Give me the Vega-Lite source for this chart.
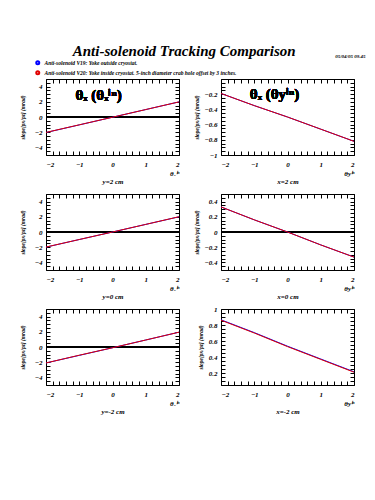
{
  "$schema": "https://vega.github.io/schema/vega-lite/v6.json",
  "autosize": {"type": "none"},
  "padding": {"left": 46, "top": 79, "right": 329, "bottom": 421},
  "background": "white",
  "title": {"text": "Anti-solenoid Tracking Comparison", "font": "Liberation Serif", "fontSize": 15, "fontStyle": "italic", "fontWeight": "bold", "anchor": "start", "dx": 53, "offset": -6, "color": "black"},
  "datasets": {
    "lines": [
      {"panel": "A", "series": "Anti-solenoid V19: Yoke outside cryostat.", "x": -2, "y": -2.04},
      {"panel": "A", "series": "Anti-solenoid V19: Yoke outside cryostat.", "x": -1, "y": -1.04},
      {"panel": "A", "series": "Anti-solenoid V19: Yoke outside cryostat.", "x": 0, "y": -0.03},
      {"panel": "A", "series": "Anti-solenoid V19: Yoke outside cryostat.", "x": 1, "y": 0.98},
      {"panel": "A", "series": "Anti-solenoid V19: Yoke outside cryostat.", "x": 2, "y": 1.99},
      {"panel": "A", "series": "Anti-solenoid V20: Yoke inside cryostat. 5-inch diameter crab hole offset by 3 inches.", "x": -2, "y": -2.03},
      {"panel": "A", "series": "Anti-solenoid V20: Yoke inside cryostat. 5-inch diameter crab hole offset by 3 inches.", "x": -1, "y": -1.03},
      {"panel": "A", "series": "Anti-solenoid V20: Yoke inside cryostat. 5-inch diameter crab hole offset by 3 inches.", "x": 0, "y": -0.03},
      {"panel": "A", "series": "Anti-solenoid V20: Yoke inside cryostat. 5-inch diameter crab hole offset by 3 inches.", "x": 1, "y": 0.98},
      {"panel": "A", "series": "Anti-solenoid V20: Yoke inside cryostat. 5-inch diameter crab hole offset by 3 inches.", "x": 2, "y": 1.99},
      {"panel": "B", "series": "Anti-solenoid V19: Yoke outside cryostat.", "x": -2, "y": -0.19},
      {"panel": "B", "series": "Anti-solenoid V19: Yoke outside cryostat.", "x": -1, "y": -0.35},
      {"panel": "B", "series": "Anti-solenoid V19: Yoke outside cryostat.", "x": 0, "y": -0.5},
      {"panel": "B", "series": "Anti-solenoid V19: Yoke outside cryostat.", "x": 1, "y": -0.66},
      {"panel": "B", "series": "Anti-solenoid V19: Yoke outside cryostat.", "x": 2, "y": -0.82},
      {"panel": "B", "series": "Anti-solenoid V20: Yoke inside cryostat. 5-inch diameter crab hole offset by 3 inches.", "x": -2, "y": -0.19},
      {"panel": "B", "series": "Anti-solenoid V20: Yoke inside cryostat. 5-inch diameter crab hole offset by 3 inches.", "x": -1, "y": -0.35},
      {"panel": "B", "series": "Anti-solenoid V20: Yoke inside cryostat. 5-inch diameter crab hole offset by 3 inches.", "x": 0, "y": -0.5},
      {"panel": "B", "series": "Anti-solenoid V20: Yoke inside cryostat. 5-inch diameter crab hole offset by 3 inches.", "x": 1, "y": -0.66},
      {"panel": "B", "series": "Anti-solenoid V20: Yoke inside cryostat. 5-inch diameter crab hole offset by 3 inches.", "x": 2, "y": -0.82},
      {"panel": "C", "series": "Anti-solenoid V19: Yoke outside cryostat.", "x": -2, "y": -1.99},
      {"panel": "C", "series": "Anti-solenoid V19: Yoke outside cryostat.", "x": -1, "y": -0.99},
      {"panel": "C", "series": "Anti-solenoid V19: Yoke outside cryostat.", "x": 0, "y": 0.0},
      {"panel": "C", "series": "Anti-solenoid V19: Yoke outside cryostat.", "x": 1, "y": 1.0},
      {"panel": "C", "series": "Anti-solenoid V19: Yoke outside cryostat.", "x": 2, "y": 2.0},
      {"panel": "C", "series": "Anti-solenoid V20: Yoke inside cryostat. 5-inch diameter crab hole offset by 3 inches.", "x": -2, "y": -1.98},
      {"panel": "C", "series": "Anti-solenoid V20: Yoke inside cryostat. 5-inch diameter crab hole offset by 3 inches.", "x": -1, "y": -0.99},
      {"panel": "C", "series": "Anti-solenoid V20: Yoke inside cryostat. 5-inch diameter crab hole offset by 3 inches.", "x": 0, "y": 0.0},
      {"panel": "C", "series": "Anti-solenoid V20: Yoke inside cryostat. 5-inch diameter crab hole offset by 3 inches.", "x": 1, "y": 1.0},
      {"panel": "C", "series": "Anti-solenoid V20: Yoke inside cryostat. 5-inch diameter crab hole offset by 3 inches.", "x": 2, "y": 2.01},
      {"panel": "D", "series": "Anti-solenoid V19: Yoke outside cryostat.", "x": -2, "y": 0.33},
      {"panel": "D", "series": "Anti-solenoid V19: Yoke outside cryostat.", "x": -1, "y": 0.16},
      {"panel": "D", "series": "Anti-solenoid V19: Yoke outside cryostat.", "x": 0, "y": 0.0},
      {"panel": "D", "series": "Anti-solenoid V19: Yoke outside cryostat.", "x": 1, "y": -0.17},
      {"panel": "D", "series": "Anti-solenoid V19: Yoke outside cryostat.", "x": 2, "y": -0.33},
      {"panel": "D", "series": "Anti-solenoid V20: Yoke inside cryostat. 5-inch diameter crab hole offset by 3 inches.", "x": -2, "y": 0.33},
      {"panel": "D", "series": "Anti-solenoid V20: Yoke inside cryostat. 5-inch diameter crab hole offset by 3 inches.", "x": -1, "y": 0.16},
      {"panel": "D", "series": "Anti-solenoid V20: Yoke inside cryostat. 5-inch diameter crab hole offset by 3 inches.", "x": 0, "y": 0.0},
      {"panel": "D", "series": "Anti-solenoid V20: Yoke inside cryostat. 5-inch diameter crab hole offset by 3 inches.", "x": 1, "y": -0.17},
      {"panel": "D", "series": "Anti-solenoid V20: Yoke inside cryostat. 5-inch diameter crab hole offset by 3 inches.", "x": 2, "y": -0.33},
      {"panel": "E", "series": "Anti-solenoid V19: Yoke outside cryostat.", "x": -2, "y": -2.1},
      {"panel": "E", "series": "Anti-solenoid V19: Yoke outside cryostat.", "x": -1, "y": -1.1},
      {"panel": "E", "series": "Anti-solenoid V19: Yoke outside cryostat.", "x": 0, "y": -0.1},
      {"panel": "E", "series": "Anti-solenoid V19: Yoke outside cryostat.", "x": 1, "y": 0.92},
      {"panel": "E", "series": "Anti-solenoid V19: Yoke outside cryostat.", "x": 2, "y": 1.95},
      {"panel": "E", "series": "Anti-solenoid V20: Yoke inside cryostat. 5-inch diameter crab hole offset by 3 inches.", "x": -2, "y": -2.1},
      {"panel": "E", "series": "Anti-solenoid V20: Yoke inside cryostat. 5-inch diameter crab hole offset by 3 inches.", "x": -1, "y": -1.08},
      {"panel": "E", "series": "Anti-solenoid V20: Yoke inside cryostat. 5-inch diameter crab hole offset by 3 inches.", "x": 0, "y": -0.1},
      {"panel": "E", "series": "Anti-solenoid V20: Yoke inside cryostat. 5-inch diameter crab hole offset by 3 inches.", "x": 1, "y": 0.92},
      {"panel": "E", "series": "Anti-solenoid V20: Yoke inside cryostat. 5-inch diameter crab hole offset by 3 inches.", "x": 2, "y": 1.95},
      {"panel": "F", "series": "Anti-solenoid V19: Yoke outside cryostat.", "x": -2, "y": 0.865},
      {"panel": "F", "series": "Anti-solenoid V19: Yoke outside cryostat.", "x": -1, "y": 0.705},
      {"panel": "F", "series": "Anti-solenoid V19: Yoke outside cryostat.", "x": 0, "y": 0.535},
      {"panel": "F", "series": "Anti-solenoid V19: Yoke outside cryostat.", "x": 1, "y": 0.375},
      {"panel": "F", "series": "Anti-solenoid V19: Yoke outside cryostat.", "x": 2, "y": 0.215},
      {"panel": "F", "series": "Anti-solenoid V20: Yoke inside cryostat. 5-inch diameter crab hole offset by 3 inches.", "x": -2, "y": 0.86},
      {"panel": "F", "series": "Anti-solenoid V20: Yoke inside cryostat. 5-inch diameter crab hole offset by 3 inches.", "x": -1, "y": 0.7},
      {"panel": "F", "series": "Anti-solenoid V20: Yoke inside cryostat. 5-inch diameter crab hole offset by 3 inches.", "x": 0, "y": 0.53},
      {"panel": "F", "series": "Anti-solenoid V20: Yoke inside cryostat. 5-inch diameter crab hole offset by 3 inches.", "x": 1, "y": 0.37},
      {"panel": "F", "series": "Anti-solenoid V20: Yoke inside cryostat. 5-inch diameter crab hole offset by 3 inches.", "x": 2, "y": 0.21}
    ]
  },
  "data": {"name": "lines"},
  "columns": 2,
  "spacing": {"row": 39, "column": 42},
  "bounds": "flush",
  "concat": [
    {
      "width": 133, "height": 76,
      "transform": [{"filter": "datum.panel == 'A'"}],
      "layer": [
        {"mark": {"type": "rule", "color": "black", "strokeWidth": 1}, "encoding": {"y": {"datum": 0, "type": "quantitative", "axis": null}}},
        {"mark": {"type": "line", "strokeWidth": 1, "clip": true},
         "encoding": {
           "x": {"field": "x", "type": "quantitative", "scale": {"domain": [-2, 2], "nice": false, "zero": false}, "axis": {"orient": "bottom", "title": "y=2 cm", "titlePadding": 1, "labelFont": "Liberation Serif", "labelFontStyle": "italic", "labelFontWeight": "bold", "labelFontSize": 7, "labelColor": "black", "titleFont": "Liberation Serif", "titleFontStyle": "italic", "titleFontWeight": "bold", "titleColor": "black", "titleFontSize": 7, "offset": -4, "tickSize": 4, "tickColor": "black", "tickWidth": 1, "labelPadding": 5, "domainOpacity": 0, "gridOpacity": 0, "values": [-2,-1.8,-1.6,-1.4,-1.2,-1,-0.8,-0.6,-0.4,-0.2,0,0.2,0.4,0.6,0.8,1,1.2,1.4,1.6,1.8,2], "format": "~g", "labelExpr": "datum.value == 2 ? ['2', 'θₓⁱⁿ'] : (abs(datum.value - round(datum.value)) < 0.01 ? datum.label : '')"}},
           "y": {"field": "y", "type": "quantitative", "scale": {"domain": [-5, 5], "nice": false, "zero": false}, "axis": {"orient": "left", "title": "slope[px/pz] (mrad)", "titleFontSize": 5.5, "titlePadding": 9, "labelFont": "Liberation Serif", "labelFontStyle": "italic", "labelFontWeight": "bold", "labelFontSize": 7, "labelColor": "black", "titleFont": "Liberation Serif", "titleFontStyle": "italic", "titleFontWeight": "bold", "titleColor": "black", "offset": -4, "tickSize": 4, "tickColor": "black", "tickWidth": 1, "labelPadding": 4, "domainOpacity": 0, "gridOpacity": 0, "values": [-5,-4.5,-4,-3.5,-3,-2.5,-2,-1.5,-1,-0.5,0,0.5,1,1.5,2,2.5,3,3.5,4,4.5,5], "format": "~g", "labelExpr": "(datum.value % 2 == 0 && abs(datum.value) < 5) ? datum.label : ''"}},
           "color": {"field": "series", "type": "nominal", "scale": {"range": ["#0000ff", "#e00000"]}, "legend": {"title": null, "orient": "none", "legendX": -11, "legendY": -19, "symbolType": "circle", "symbolSize": 4, "symbolStrokeWidth": 3, "labelFontSize": 5.5, "labelFont": "Liberation Serif", "labelFontStyle": "italic", "labelFontWeight": "bold", "labelColor": "black", "labelLimit": 0, "rowPadding": -6, "labelOffset": 4, "padding": 0}}
         }},
        {"mark": {"type": "line", "opacity": 0},
         "encoding": {
           "x": {"field": "x", "type": "quantitative", "axis": {"orient": "top", "labels": false, "title": null, "offset": -4, "tickSize": 4, "tickColor": "black", "tickWidth": 1, "domainOpacity": 0, "gridOpacity": 0, "values": [-2,-1.8,-1.6,-1.4,-1.2,-1,-0.8,-0.6,-0.4,-0.2,0,0.2,0.4,0.6,0.8,1,1.2,1.4,1.6,1.8,2]}},
           "y": {"field": "y", "type": "quantitative", "axis": {"orient": "right", "labels": false, "title": null, "offset": -4, "tickSize": 4, "tickColor": "black", "tickWidth": 1, "domainOpacity": 0, "gridOpacity": 0, "values": [-5,-4.5,-4,-3.5,-3,-2.5,-2,-1.5,-1,-0.5,0,0.5,1,1.5,2,2.5,3,3.5,4,4.5,5]}},
           "detail": {"field": "series"}
         }},
        {"mark": {"type": "text", "font": "Liberation Serif", "fontSize": 15, "fontWeight": "bold", "align": "center", "baseline": "middle", "color": "black"},
         "encoding": {"x": {"datum": -0.42, "type": "quantitative", "axis": null}, "y": {"datum": 2.9, "type": "quantitative", "axis": null}, "text": {"value": "θₓ (θₓⁱⁿ)"}}}
      ],
      "resolve": {"axis": {"x": "independent", "y": "independent"}}
    },
    {
      "width": 133, "height": 76,
      "title": {"text": "05/04/05  09.45", "fontSize": 5, "anchor": "end", "dx": 11, "offset": 20, "font": "Liberation Serif", "fontStyle": "italic", "fontWeight": "bold", "color": "black"},
      "transform": [{"filter": "datum.panel == 'B'"}],
      "layer": [
        {"mark": {"type": "line", "strokeWidth": 1, "clip": true},
         "encoding": {
           "x": {"field": "x", "type": "quantitative", "scale": {"domain": [-2, 2], "nice": false, "zero": false}, "axis": {"orient": "bottom", "title": "x=2 cm", "titlePadding": 1, "labelFont": "Liberation Serif", "labelFontStyle": "italic", "labelFontWeight": "bold", "labelFontSize": 7, "labelColor": "black", "titleFont": "Liberation Serif", "titleFontStyle": "italic", "titleFontWeight": "bold", "titleColor": "black", "titleFontSize": 7, "offset": -4, "tickSize": 4, "tickColor": "black", "tickWidth": 1, "labelPadding": 5, "domainOpacity": 0, "gridOpacity": 0, "values": [-2,-1.8,-1.6,-1.4,-1.2,-1,-0.8,-0.6,-0.4,-0.2,0,0.2,0.4,0.6,0.8,1,1.2,1.4,1.6,1.8,2], "format": "~g", "labelExpr": "datum.value == 2 ? ['2', 'θyⁱⁿ'] : (abs(datum.value - round(datum.value)) < 0.01 ? datum.label : '')"}},
           "y": {"field": "y", "type": "quantitative", "scale": {"domain": [-1, 0], "nice": false, "zero": false}, "axis": {"orient": "left", "title": "slope[px/pz] (mrad)", "titleFontSize": 5.5, "titlePadding": 5, "labelFont": "Liberation Serif", "labelFontStyle": "italic", "labelFontWeight": "bold", "labelFontSize": 7, "labelColor": "black", "titleFont": "Liberation Serif", "titleFontStyle": "italic", "titleFontWeight": "bold", "titleColor": "black", "offset": -4, "tickSize": 4, "tickColor": "black", "tickWidth": 1, "labelPadding": 4, "domainOpacity": 0, "gridOpacity": 0, "values": [-1,-0.95,-0.9,-0.85,-0.8,-0.75,-0.7,-0.65,-0.6,-0.55,-0.5,-0.45,-0.4,-0.35,-0.3,-0.25,-0.2,-0.15,-0.1,-0.05,0], "format": "~g", "labelExpr": "(abs(datum.value*5 - round(datum.value*5)) < 0.01 && datum.value < -0.01) ? datum.label : ''"}},
           "color": {"field": "series", "type": "nominal"}
         }},
        {"mark": {"type": "line", "opacity": 0},
         "encoding": {
           "x": {"field": "x", "type": "quantitative", "axis": {"orient": "top", "labels": false, "title": null, "offset": -4, "tickSize": 4, "tickColor": "black", "tickWidth": 1, "domainOpacity": 0, "gridOpacity": 0, "values": [-2,-1.8,-1.6,-1.4,-1.2,-1,-0.8,-0.6,-0.4,-0.2,0,0.2,0.4,0.6,0.8,1,1.2,1.4,1.6,1.8,2]}},
           "y": {"field": "y", "type": "quantitative", "axis": {"orient": "right", "labels": false, "title": null, "offset": -4, "tickSize": 4, "tickColor": "black", "tickWidth": 1, "domainOpacity": 0, "gridOpacity": 0, "values": [-1,-0.95,-0.9,-0.85,-0.8,-0.75,-0.7,-0.65,-0.6,-0.55,-0.5,-0.45,-0.4,-0.35,-0.3,-0.25,-0.2,-0.15,-0.1,-0.05,0]}},
           "detail": {"field": "series"}
         }},
        {"mark": {"type": "text", "font": "Liberation Serif", "fontSize": 15, "fontWeight": "bold", "align": "center", "baseline": "middle", "color": "black"},
         "encoding": {"x": {"datum": -0.39, "type": "quantitative", "axis": null}, "y": {"datum": -0.2, "type": "quantitative", "axis": null}, "text": {"value": "θₓ (θyⁱⁿ)"}}}
      ],
      "resolve": {"axis": {"x": "independent", "y": "independent"}}
    },
    {
      "width": 133, "height": 76,
      "transform": [{"filter": "datum.panel == 'C'"}],
      "layer": [
        {"mark": {"type": "rule", "color": "black", "strokeWidth": 1}, "encoding": {"y": {"datum": 0, "type": "quantitative", "axis": null}}},
        {"mark": {"type": "line", "strokeWidth": 1, "clip": true},
         "encoding": {
           "x": {"field": "x", "type": "quantitative", "scale": {"domain": [-2, 2], "nice": false, "zero": false}, "axis": {"orient": "bottom", "title": "y=0 cm", "titlePadding": 1, "labelFont": "Liberation Serif", "labelFontStyle": "italic", "labelFontWeight": "bold", "labelFontSize": 7, "labelColor": "black", "titleFont": "Liberation Serif", "titleFontStyle": "italic", "titleFontWeight": "bold", "titleColor": "black", "titleFontSize": 7, "offset": -4, "tickSize": 4, "tickColor": "black", "tickWidth": 1, "labelPadding": 5, "domainOpacity": 0, "gridOpacity": 0, "values": [-2,-1.8,-1.6,-1.4,-1.2,-1,-0.8,-0.6,-0.4,-0.2,0,0.2,0.4,0.6,0.8,1,1.2,1.4,1.6,1.8,2], "format": "~g", "labelExpr": "datum.value == 2 ? ['2', 'θₓⁱⁿ'] : (abs(datum.value - round(datum.value)) < 0.01 ? datum.label : '')"}},
           "y": {"field": "y", "type": "quantitative", "scale": {"domain": [-5, 5], "nice": false, "zero": false}, "axis": {"orient": "left", "title": "slope[px/pz] (mrad)", "titleFontSize": 5.5, "titlePadding": 9, "labelFont": "Liberation Serif", "labelFontStyle": "italic", "labelFontWeight": "bold", "labelFontSize": 7, "labelColor": "black", "titleFont": "Liberation Serif", "titleFontStyle": "italic", "titleFontWeight": "bold", "titleColor": "black", "offset": -4, "tickSize": 4, "tickColor": "black", "tickWidth": 1, "labelPadding": 4, "domainOpacity": 0, "gridOpacity": 0, "values": [-5,-4.5,-4,-3.5,-3,-2.5,-2,-1.5,-1,-0.5,0,0.5,1,1.5,2,2.5,3,3.5,4,4.5,5], "format": "~g", "labelExpr": "(datum.value % 2 == 0 && abs(datum.value) < 5) ? datum.label : ''"}},
           "color": {"field": "series", "type": "nominal"}
         }},
        {"mark": {"type": "line", "opacity": 0},
         "encoding": {
           "x": {"field": "x", "type": "quantitative", "axis": {"orient": "top", "labels": false, "title": null, "offset": -4, "tickSize": 4, "tickColor": "black", "tickWidth": 1, "domainOpacity": 0, "gridOpacity": 0, "values": [-2,-1.8,-1.6,-1.4,-1.2,-1,-0.8,-0.6,-0.4,-0.2,0,0.2,0.4,0.6,0.8,1,1.2,1.4,1.6,1.8,2]}},
           "y": {"field": "y", "type": "quantitative", "axis": {"orient": "right", "labels": false, "title": null, "offset": -4, "tickSize": 4, "tickColor": "black", "tickWidth": 1, "domainOpacity": 0, "gridOpacity": 0, "values": [-5,-4.5,-4,-3.5,-3,-2.5,-2,-1.5,-1,-0.5,0,0.5,1,1.5,2,2.5,3,3.5,4,4.5,5]}},
           "detail": {"field": "series"}
         }}
      ],
      "resolve": {"axis": {"x": "independent", "y": "independent"}}
    },
    {
      "width": 133, "height": 76,
      "transform": [{"filter": "datum.panel == 'D'"}],
      "layer": [
        {"mark": {"type": "rule", "color": "black", "strokeWidth": 1}, "encoding": {"y": {"datum": 0, "type": "quantitative", "axis": null}}},
        {"mark": {"type": "line", "strokeWidth": 1, "clip": true},
         "encoding": {
           "x": {"field": "x", "type": "quantitative", "scale": {"domain": [-2, 2], "nice": false, "zero": false}, "axis": {"orient": "bottom", "title": "x=0 cm", "titlePadding": 1, "labelFont": "Liberation Serif", "labelFontStyle": "italic", "labelFontWeight": "bold", "labelFontSize": 7, "labelColor": "black", "titleFont": "Liberation Serif", "titleFontStyle": "italic", "titleFontWeight": "bold", "titleColor": "black", "titleFontSize": 7, "offset": -4, "tickSize": 4, "tickColor": "black", "tickWidth": 1, "labelPadding": 5, "domainOpacity": 0, "gridOpacity": 0, "values": [-2,-1.8,-1.6,-1.4,-1.2,-1,-0.8,-0.6,-0.4,-0.2,0,0.2,0.4,0.6,0.8,1,1.2,1.4,1.6,1.8,2], "format": "~g", "labelExpr": "datum.value == 2 ? ['2', 'θyⁱⁿ'] : (abs(datum.value - round(datum.value)) < 0.01 ? datum.label : '')"}},
           "y": {"field": "y", "type": "quantitative", "scale": {"domain": [-0.5, 0.5], "nice": false, "zero": false}, "axis": {"orient": "left", "title": "slope[px/pz] (mrad)", "titleFontSize": 5.5, "titlePadding": 5, "labelFont": "Liberation Serif", "labelFontStyle": "italic", "labelFontWeight": "bold", "labelFontSize": 7, "labelColor": "black", "titleFont": "Liberation Serif", "titleFontStyle": "italic", "titleFontWeight": "bold", "titleColor": "black", "offset": -4, "tickSize": 4, "tickColor": "black", "tickWidth": 1, "labelPadding": 4, "domainOpacity": 0, "gridOpacity": 0, "values": [-0.5,-0.45,-0.4,-0.35,-0.3,-0.25,-0.2,-0.15,-0.1,-0.05,0,0.05,0.1,0.15,0.2,0.25,0.3,0.35,0.4,0.45,0.5], "format": "~g", "labelExpr": "(abs(datum.value*5 - round(datum.value*5)) < 0.01 && abs(datum.value) < 0.45) ? datum.label : ''"}},
           "color": {"field": "series", "type": "nominal"}
         }},
        {"mark": {"type": "line", "opacity": 0},
         "encoding": {
           "x": {"field": "x", "type": "quantitative", "axis": {"orient": "top", "labels": false, "title": null, "offset": -4, "tickSize": 4, "tickColor": "black", "tickWidth": 1, "domainOpacity": 0, "gridOpacity": 0, "values": [-2,-1.8,-1.6,-1.4,-1.2,-1,-0.8,-0.6,-0.4,-0.2,0,0.2,0.4,0.6,0.8,1,1.2,1.4,1.6,1.8,2]}},
           "y": {"field": "y", "type": "quantitative", "axis": {"orient": "right", "labels": false, "title": null, "offset": -4, "tickSize": 4, "tickColor": "black", "tickWidth": 1, "domainOpacity": 0, "gridOpacity": 0, "values": [-0.5,-0.45,-0.4,-0.35,-0.3,-0.25,-0.2,-0.15,-0.1,-0.05,0,0.05,0.1,0.15,0.2,0.25,0.3,0.35,0.4,0.45,0.5]}},
           "detail": {"field": "series"}
         }}
      ],
      "resolve": {"axis": {"x": "independent", "y": "independent"}}
    },
    {
      "width": 133, "height": 76,
      "transform": [{"filter": "datum.panel == 'E'"}],
      "layer": [
        {"mark": {"type": "rule", "color": "black", "strokeWidth": 1}, "encoding": {"y": {"datum": 0, "type": "quantitative", "axis": null}}},
        {"mark": {"type": "line", "strokeWidth": 1, "clip": true},
         "encoding": {
           "x": {"field": "x", "type": "quantitative", "scale": {"domain": [-2, 2], "nice": false, "zero": false}, "axis": {"orient": "bottom", "title": "y=-2 cm", "titlePadding": 1, "labelFont": "Liberation Serif", "labelFontStyle": "italic", "labelFontWeight": "bold", "labelFontSize": 7, "labelColor": "black", "titleFont": "Liberation Serif", "titleFontStyle": "italic", "titleFontWeight": "bold", "titleColor": "black", "titleFontSize": 7, "offset": -4, "tickSize": 4, "tickColor": "black", "tickWidth": 1, "labelPadding": 5, "domainOpacity": 0, "gridOpacity": 0, "values": [-2,-1.8,-1.6,-1.4,-1.2,-1,-0.8,-0.6,-0.4,-0.2,0,0.2,0.4,0.6,0.8,1,1.2,1.4,1.6,1.8,2], "format": "~g", "labelExpr": "datum.value == 2 ? ['2', 'θₓⁱⁿ'] : (abs(datum.value - round(datum.value)) < 0.01 ? datum.label : '')"}},
           "y": {"field": "y", "type": "quantitative", "scale": {"domain": [-5, 5], "nice": false, "zero": false}, "axis": {"orient": "left", "title": "slope[px/pz] (mrad)", "titleFontSize": 5.5, "titlePadding": 9, "labelFont": "Liberation Serif", "labelFontStyle": "italic", "labelFontWeight": "bold", "labelFontSize": 7, "labelColor": "black", "titleFont": "Liberation Serif", "titleFontStyle": "italic", "titleFontWeight": "bold", "titleColor": "black", "offset": -4, "tickSize": 4, "tickColor": "black", "tickWidth": 1, "labelPadding": 4, "domainOpacity": 0, "gridOpacity": 0, "values": [-5,-4.5,-4,-3.5,-3,-2.5,-2,-1.5,-1,-0.5,0,0.5,1,1.5,2,2.5,3,3.5,4,4.5,5], "format": "~g", "labelExpr": "(datum.value % 2 == 0 && abs(datum.value) < 5) ? datum.label : ''"}},
           "color": {"field": "series", "type": "nominal"}
         }},
        {"mark": {"type": "line", "opacity": 0},
         "encoding": {
           "x": {"field": "x", "type": "quantitative", "axis": {"orient": "top", "labels": false, "title": null, "offset": -4, "tickSize": 4, "tickColor": "black", "tickWidth": 1, "domainOpacity": 0, "gridOpacity": 0, "values": [-2,-1.8,-1.6,-1.4,-1.2,-1,-0.8,-0.6,-0.4,-0.2,0,0.2,0.4,0.6,0.8,1,1.2,1.4,1.6,1.8,2]}},
           "y": {"field": "y", "type": "quantitative", "axis": {"orient": "right", "labels": false, "title": null, "offset": -4, "tickSize": 4, "tickColor": "black", "tickWidth": 1, "domainOpacity": 0, "gridOpacity": 0, "values": [-5,-4.5,-4,-3.5,-3,-2.5,-2,-1.5,-1,-0.5,0,0.5,1,1.5,2,2.5,3,3.5,4,4.5,5]}},
           "detail": {"field": "series"}
         }}
      ],
      "resolve": {"axis": {"x": "independent", "y": "independent"}}
    },
    {
      "width": 133, "height": 76,
      "transform": [{"filter": "datum.panel == 'F'"}],
      "layer": [
        {"mark": {"type": "line", "strokeWidth": 1, "clip": true},
         "encoding": {
           "x": {"field": "x", "type": "quantitative", "scale": {"domain": [-2, 2], "nice": false, "zero": false}, "axis": {"orient": "bottom", "title": "x=-2 cm", "titlePadding": 1, "labelFont": "Liberation Serif", "labelFontStyle": "italic", "labelFontWeight": "bold", "labelFontSize": 7, "labelColor": "black", "titleFont": "Liberation Serif", "titleFontStyle": "italic", "titleFontWeight": "bold", "titleColor": "black", "titleFontSize": 7, "offset": -4, "tickSize": 4, "tickColor": "black", "tickWidth": 1, "labelPadding": 5, "domainOpacity": 0, "gridOpacity": 0, "values": [-2,-1.8,-1.6,-1.4,-1.2,-1,-0.8,-0.6,-0.4,-0.2,0,0.2,0.4,0.6,0.8,1,1.2,1.4,1.6,1.8,2], "format": "~g", "labelExpr": "datum.value == 2 ? ['2', 'θyⁱⁿ'] : (abs(datum.value - round(datum.value)) < 0.01 ? datum.label : '')"}},
           "y": {"field": "y", "type": "quantitative", "scale": {"domain": [0.05, 1], "nice": false, "zero": false}, "axis": {"orient": "left", "title": "slope[px/pz] (mrad)", "titleFontSize": 5.5, "titlePadding": 5, "labelFont": "Liberation Serif", "labelFontStyle": "italic", "labelFontWeight": "bold", "labelFontSize": 7, "labelColor": "black", "titleFont": "Liberation Serif", "titleFontStyle": "italic", "titleFontWeight": "bold", "titleColor": "black", "offset": -4, "tickSize": 4, "tickColor": "black", "tickWidth": 1, "labelPadding": 4, "domainOpacity": 0, "gridOpacity": 0, "values": [0.05,0.1,0.15,0.2,0.25,0.3,0.35,0.4,0.45,0.5,0.55,0.6,0.65,0.7,0.75,0.8,0.85,0.9,0.95,1], "format": "~g", "labelExpr": "(abs(datum.value*5 - round(datum.value*5)) < 0.01) ? datum.label : ''"}},
           "color": {"field": "series", "type": "nominal"}
         }},
        {"mark": {"type": "line", "opacity": 0},
         "encoding": {
           "x": {"field": "x", "type": "quantitative", "axis": {"orient": "top", "labels": false, "title": null, "offset": -4, "tickSize": 4, "tickColor": "black", "tickWidth": 1, "domainOpacity": 0, "gridOpacity": 0, "values": [-2,-1.8,-1.6,-1.4,-1.2,-1,-0.8,-0.6,-0.4,-0.2,0,0.2,0.4,0.6,0.8,1,1.2,1.4,1.6,1.8,2]}},
           "y": {"field": "y", "type": "quantitative", "axis": {"orient": "right", "labels": false, "title": null, "offset": -4, "tickSize": 4, "tickColor": "black", "tickWidth": 1, "domainOpacity": 0, "gridOpacity": 0, "values": [0.05,0.1,0.15,0.2,0.25,0.3,0.35,0.4,0.45,0.5,0.55,0.6,0.65,0.7,0.75,0.8,0.85,0.9,0.95,1]}},
           "detail": {"field": "series"}
         }}
      ],
      "resolve": {"axis": {"x": "independent", "y": "independent"}}
    }
  ],
  "config": {
    "view": {"stroke": "black", "strokeWidth": 1}
  }
}
